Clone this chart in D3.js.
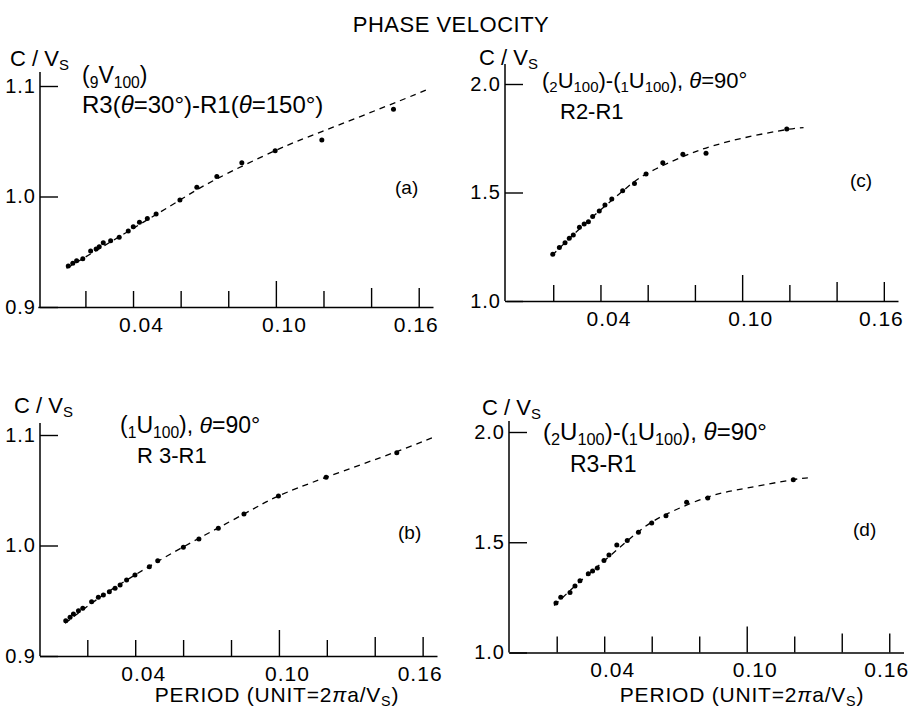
<!DOCTYPE html>
<html>
<head>
<meta charset="utf-8">
<script src="https://cdn.jsdelivr.net/npm/d3@7.9.0/dist/d3.min.js"></script>
<style>
  body { margin: 0; background: #fff; }
  svg { display: block; }
  text { font-family: "Liberation Sans", Arial, sans-serif; fill: #000; }
</style>
</head>
<body>
<div id="chart"></div>
<script>
// === Data ===
// shared x ticks (period) and labels
const xTicks = [0.02, 0.04, 0.06, 0.08, 0.10, 0.12, 0.14, 0.16];
const xLabelled = [0.04, 0.10, 0.16];
const yTicksLow = [0.9, 1.0, 1.1];
const yTicksHigh = [1.0, 1.5, 2.0];

// (a) 9V100, R3(30) - R1(150)
const aPeriod = [0.0128, 0.0147, 0.0163, 0.0189, 0.0222, 0.0245, 0.0258, 0.0275, 0.0306, 0.0342, 0.0380,
  0.0401, 0.0427, 0.0460, 0.0497, 0.0597, 0.0668, 0.0752, 0.0857, 0.0997, 0.1193, 0.1494];
const aVel = [0.9371, 0.9395, 0.9419, 0.9437, 0.9507, 0.9525, 0.9546, 0.9582, 0.9600, 0.9631, 0.9688,
  0.9727, 0.9766, 0.9802, 0.9842, 0.9968, 1.0083, 1.0180, 1.0306, 1.0415, 1.0511, 1.0789];
const aCurvePeriod = [0.0121, 0.0401, 0.0597, 0.0752, 0.0997, 0.1193, 0.1494, 0.1648];
const aCurveVel = [0.935, 0.9712, 0.9968, 1.016, 1.0415, 1.0587, 1.0843, 1.098];

// (b) 1U100, R3 - R1
const bPeriod = [0.0110, 0.0128, 0.0142, 0.0163, 0.0181, 0.0218, 0.0246, 0.0267, 0.0292, 0.0316, 0.0337,
  0.0364, 0.0399, 0.0459, 0.0494, 0.0601, 0.0666, 0.0747, 0.0854, 0.0998, 0.1197, 0.1492];
const bVel = [0.9320, 0.9350, 0.9380, 0.9410, 0.9431, 0.9491, 0.9531, 0.9552, 0.9582, 0.9612, 0.9643,
  0.9688, 0.9733, 0.9808, 0.9863, 0.9984, 1.0059, 1.0156, 1.0285, 1.0448, 1.0617, 1.0840];
const bCurvePeriod = [0.0107, 0.0253, 0.0399, 0.0598, 0.0854, 0.0998, 0.1197, 0.1492, 0.1645];
const bCurveVel = [0.9296, 0.9531, 0.9733, 0.9984, 1.0285, 1.0448, 1.0617, 1.0850, 1.098];

// (c) 2U100 - 1U100, R2 - R1
const cPeriod = [0.0198, 0.0226, 0.0250, 0.0268, 0.0285, 0.0311, 0.0331, 0.0349, 0.0367, 0.0395,
  0.0419, 0.0448, 0.0494, 0.0544, 0.0593, 0.0664, 0.0749, 0.0847, 0.1189];
const cVel = [1.215, 1.247, 1.269, 1.289, 1.304, 1.340, 1.355, 1.365, 1.389, 1.415,
  1.442, 1.470, 1.508, 1.542, 1.585, 1.637, 1.676, 1.681, 1.793];
const cCurvePeriod = [0.0195, 0.0285, 0.0395, 0.0494, 0.0593, 0.0749, 0.0847, 0.100, 0.1189, 0.126];
const cCurveVel = [1.21, 1.305, 1.415, 1.506, 1.585, 1.665, 1.705, 1.750, 1.790, 1.799];

// (d) 2U100 - 1U100, R3 - R1
const dPeriod = [0.0197, 0.0217, 0.0256, 0.0277, 0.0298, 0.0333, 0.0351, 0.0371, 0.0399, 0.0420,
  0.0453, 0.0497, 0.0544, 0.0600, 0.0660, 0.0747, 0.0836, 0.1196];
const dVel = [1.224, 1.251, 1.272, 1.302, 1.325, 1.357, 1.370, 1.383, 1.417, 1.442,
  1.487, 1.508, 1.545, 1.587, 1.620, 1.681, 1.701, 1.784];
const dCurvePeriod = [0.0189, 0.0298, 0.0399, 0.0544, 0.0663, 0.0836, 0.100, 0.1196, 0.1267];
const dCurveVel = [1.213, 1.322, 1.415, 1.548, 1.628, 1.705, 1.746, 1.784, 1.792];

// text pieces: [text, kind] where kind is "" (normal), "sub" or "it"
const aNote1 = [["(", ""], ["9", "sub"], ["V", ""], ["100", "sub"], [")", ""]];
const aNote2 = [["R3(", ""], ["θ", "it"], ["=30°)-R1(", ""], ["θ", "it"], ["=150°)", ""]];
const bNote1 = [["(", ""], ["1", "sub"], ["U", ""], ["100", "sub"], ["), ", ""], ["θ", "it"], ["=90°", ""]];
const diffNote = [["(", ""], ["2", "sub"], ["U", ""], ["100", "sub"], [")-(", ""], ["1", "sub"], ["U", ""],
  ["100", "sub"], ["), ", ""], ["θ", "it"], ["=90°", ""]];
const cvLabel = [["C / V", ""], ["S", "sub"]];
const periodLabel = [["PERIOD (UNIT=2", ""], ["π", "it"], ["a/V", ""], ["S", "sub"], [")", ""]];

// === Layout ===
const xDomain = [0, 0.166];

const panels = [
  { period: aPeriod, vel: aVel, curveP: aCurvePeriod, curveV: aCurveVel, yTicks: yTicksLow,
    yd: [0.9, 1.1], xr: [37.8, 433], yr: [307, 86], axisX: 40, top: 72,
    cv: [10, 66], notes: [[aNote1, 82, 83, 23], [aNote2, 82, 113, 24]], letter: ["(a)", 395, 194] },
  { period: bPeriod, vel: bVel, curveP: bCurvePeriod, curveV: bCurveVel, yTicks: yTicksLow,
    yd: [0.9, 1.1], xr: [39.4, 437], yr: [656, 435], axisX: 40, top: 423,
    cv: [14, 413], notes: [[bNote1, 120, 433, 23], [[["R 3-R1", ""]], 137, 463, 22]], letter: ["(b)", 398, 539],
    period_label: 277 },
  { period: cPeriod, vel: cVel, curveP: cCurvePeriod, curveV: cCurveVel, yTicks: yTicksHigh,
    yd: [1.0, 2.0], xr: [506, 898], yr: [301, 84], axisX: 505, top: 64,
    cv: [479, 65], notes: [[diffNote, 542, 88, 22], [[["R2-R1", ""]], 560, 119, 22]], letter: ["(c)", 850, 187] },
  { period: dPeriod, vel: dVel, curveP: dCurvePeriod, curveV: dCurveVel, yTicks: yTicksHigh,
    yd: [1.0, 2.0], xr: [509.2, 903.5], yr: [652.5, 432], axisX: 509, top: 421,
    cv: [482, 415], notes: [[diffNote, 543, 440, 24], [[["R3-R1", ""]], 570, 472, 23]], letter: ["(d)", 853, 536],
    period_label: 742 }
];

const svg = d3.select("#chart")
  .append("svg")
  .attr("width", 910)
  .attr("height", 712)
  .attr("viewBox", "0 0 910 712");

svg.append("rect").attr("width", 910).attr("height", 712).attr("fill", "#fff");

// writes a text made of pieces with subscripts / italics
function richText(parent, parts, x, y, size) {
  const t = parent.append("text").attr("x", x).attr("y", y).attr("font-size", size);
  let shift = 0;
  parts.forEach(([s, kind]) => {
    const target = kind === "sub" ? size * 0.2 : 0;
    const ts = t.append("tspan").attr("dy", target - shift).text(s);
    if (kind === "sub") ts.attr("font-size", size * 0.68);
    if (kind === "it") ts.attr("font-style", "italic");
    shift = target;
  });
  return t;
}

function tickLen(d) {
  if (Math.abs(d - 0.10) < 1e-6) return 26;
  return d > 0.13 ? 19 : 16;
}

// title
svg.append("text")
  .attr("x", 451)
  .attr("y", 32)
  .attr("text-anchor", "middle")
  .attr("font-size", 22)
  .attr("letter-spacing", 0.5)
  .text("PHASE VELOCITY");

panels.forEach(p => {
  const x = d3.scaleLinear().domain(xDomain).range(p.xr);
  const y = d3.scaleLinear().domain(p.yd).range(p.yr);
  const g = svg.append("g");

  // x axis, ticks pointing up into the plot
  const xAxis = d3.axisBottom(x)
    .tickValues(xTicks)
    .tickSize(-16)
    .tickSizeOuter(0)
    .tickPadding(10)
    .tickFormat(d => xLabelled.some(v => Math.abs(v - d) < 1e-6) ? d3.format(".2f")(d) : "");
  const xg = g.append("g")
    .attr("transform", `translate(0,${y(p.yd[0])})`)
    .call(xAxis);
  xg.select(".domain").attr("stroke", "#000").attr("stroke-width", 1.5);
  xg.selectAll(".tick line")
    .attr("y2", d => -tickLen(d))
    .attr("stroke", "#000")
    .attr("stroke-width", 1.4);
  xg.selectAll(".tick text")
    .attr("font-size", 21)
    .attr("letter-spacing", 1)
    .attr("dx", d => d > 0.15 ? -3 : 8);

  // y axis, ticks pointing right
  const yAxis = d3.axisLeft(y)
    .tickValues(p.yTicks)
    .tickSize(-18)
    .tickPadding(4)
    .tickFormat(d3.format(".1f"));
  const yg = g.append("g")
    .attr("transform", `translate(${p.axisX},0)`)
    .call(yAxis);
  yg.select(".domain").remove();
  yg.selectAll(".tick line").attr("stroke", "#000").attr("stroke-width", 1.4);
  yg.selectAll(".tick text").attr("font-size", 20).attr("letter-spacing", 1);
  yg.append("line")
    .attr("x1", 0).attr("x2", 0)
    .attr("y1", p.top).attr("y2", y(p.yd[0]))
    .attr("stroke", "#000")
    .attr("stroke-width", 1.5);

  // dashed fitted curve
  const line = d3.line()
    .x(d => x(d[0]))
    .y(d => y(d[1]))
    .curve(d3.curveNatural);
  g.append("path")
    .datum(d3.zip(p.curveP, p.curveV))
    .attr("d", line)
    .attr("fill", "none")
    .attr("stroke", "#000")
    .attr("stroke-width", 1.3)
    .attr("stroke-dasharray", "6,5");

  // measured points
  g.selectAll("circle")
    .data(d3.zip(p.period, p.vel))
    .join("circle")
    .attr("cx", d => x(d[0]))
    .attr("cy", d => y(d[1]))
    .attr("r", 2.5)
    .attr("fill", "#000");

  // labels
  richText(g, cvLabel, p.cv[0], p.cv[1], 22);
  p.notes.forEach(([parts, nx, ny, size]) => richText(g, parts, nx, ny, size));
  g.append("text")
    .attr("x", p.letter[1])
    .attr("y", p.letter[2])
    .attr("font-size", 19)
    .text(p.letter[0]);

  if (p.period_label) {
    richText(g, periodLabel, p.period_label, 702, 21)
      .attr("text-anchor", "middle")
      .attr("letter-spacing", 0.8);
  }
});
</script>
</body>
</html>
